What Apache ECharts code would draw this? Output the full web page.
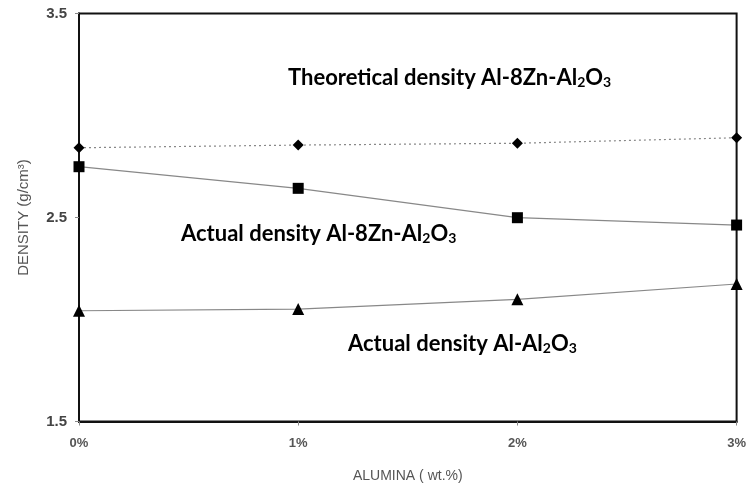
<!DOCTYPE html>
<html><head><meta charset="utf-8">
<script src="https://cdn.jsdelivr.net/npm/echarts@6/dist/echarts.min.js"></script>
<style>html,body{margin:0;padding:0;background:#fff}#c{width:749px;height:489px}</style>
</head><body><div id="c"></div>
<script>
var categories = ['0%', '1%', '2%', '3%'];
var theoretical = [2.842, 2.855, 2.864, 2.891];
var actualAlZn = [2.749, 2.643, 2.499, 2.463];
var actualAl = [2.043, 2.051, 2.099, 2.174];
var yTicks = [1.5, 2.5, 3.5];

var chart = echarts.init(document.getElementById('c'));
var sub = {fontFamily: 'Lato', fontWeight: 'bold', fontSize: 14, color: '#151515', verticalAlign: 'bottom', padding: [7, 0, 0, 0]};
var main = {fontFamily: 'Lato', fontWeight: 'bold', fontSize: 22, color: '#151515'};
chart.setOption({
  animation: false,
  backgroundColor: '#fff',
  grid: {left: 79, right: 8.5, top: 13.5, bottom: 67.5, show: true, borderColor: '#111', borderWidth: 2},
  xAxis: {
    type: 'category', data: categories, boundaryGap: false,
    name: 'ALUMINA ( wt.%)', nameLocation: 'middle', nameGap: 48,
    nameTextStyle: {fontFamily: 'Liberation Sans', fontSize: 14, color: '#555'},
    axisLine: {lineStyle: {color: '#111', width: 2}},
    axisTick: {show: true, length: 4, lineStyle: {color: '#888'}},
    axisLabel: {fontFamily: 'Liberation Sans', fontSize: 13, color: '#555', margin: 15, fontWeight: 'bold'}
  },
  yAxis: {
    type: 'value', min: 1.5, max: 3.5, interval: 1,
    name: 'DENSITY (g/cm\u00b3)', nameLocation: 'middle', nameGap: 48,
    nameTextStyle: {fontFamily: 'Liberation Sans', fontSize: 15, color: '#555'},
    axisLine: {show: true, lineStyle: {color: '#111', width: 2}},
    axisTick: {show: true, length: 4, lineStyle: {color: '#888'}},
    splitLine: {show: false},
    axisLabel: {fontFamily: 'Liberation Sans', fontSize: 15, color: '#444', fontWeight: 'bold', margin: 12,
      formatter: function (v) { return yTicks.indexOf(v) >= 0 ? v.toFixed(1) : ''; }}
  },
  series: [
    {type: 'line', data: theoretical, symbol: 'diamond', symbolSize: 11,
     itemStyle: {color: '#000'}, lineStyle: {color: '#888', width: 1.2, type: [2, 3]}},
    {type: 'line', data: actualAlZn, symbol: 'rect', symbolSize: 11,
     itemStyle: {color: '#000'}, lineStyle: {color: '#888', width: 1.2}},
    {type: 'line', data: actualAl, symbol: 'triangle', symbolSize: 12,
     itemStyle: {color: '#000'}, lineStyle: {color: '#888', width: 1.2}}
  ],
  graphic: [
    {type: 'text', left: 288, top: 67, style: {text: '{m|Theoretical density Al-8Zn-Al}{s|2}{m|O}{s|3}', rich: {m: main, s: sub}}},
    {type: 'text', left: 181, top: 223, style: {text: '{m|Actual density Al-8Zn-Al}{s|2}{m|O}{s|3}', rich: {m: main, s: sub}}},
    {type: 'text', left: 348, top: 333, style: {text: '{m|Actual density Al-Al}{s|2}{m|O}{s|3}', rich: {m: main, s: sub}}}
  ]
});
</script></body></html>
